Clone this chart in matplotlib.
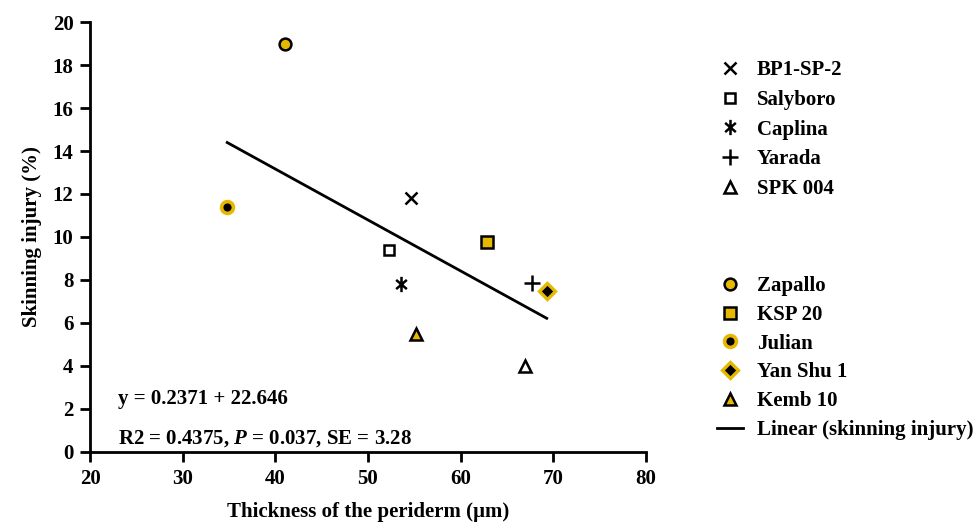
import numpy as np
import matplotlib
matplotlib.use("Agg")
import matplotlib.pyplot as plt
from matplotlib.path import Path

plt.rcParams['font.family'] = ['Liberation Serif', 'DejaVu Serif']
plt.rcParams['font.weight'] = 'bold'
plt.rcParams['mathtext.fontset'] = 'custom'
plt.rcParams['mathtext.rm'] = 'Liberation Serif:bold'
plt.rcParams['mathtext.it'] = 'Liberation Serif:italic:bold'

GOLD = '#E6B800'
FS = 15

# cultivars, periderm thickness (um) and skinning injury (%)
names = ['BP1-SP-2', 'Salyboro', 'Caplina', 'Yarada', 'SPK 004',
         'Zapallo', 'KSP 20', 'Julian', 'Yan Shu 1', 'Kemb 10']
thickness = [54.6, 52.3, 53.6, 67.7, 67.0, 41.0, 62.8, 34.8, 69.3, 55.2]
injury = [11.8, 9.4, 7.8, 7.85, 4.0, 19.0, 9.75, 11.4, 7.5, 5.5]

slope = -0.2371
intercept = 22.646

# "ж" shaped asterisk: a cross with a vertical bar
star = Path([(0, -1), (0, 1), (-0.7, -0.6), (0.7, 0.6), (-0.7, 0.6), (0.7, -0.6)],
            [Path.MOVETO, Path.LINETO] * 3)

# marker, face colour, edge colour, size, edge width
styles = [
    ('x', 'none', 'black', 8.5, 1.8),
    ('s', 'white', 'black', 7.5, 1.8),
    (star, 'none', 'black', 11, 1.8),
    ('+', 'none', 'black', 11, 1.8),
    ('^', 'white', 'black', 8.5, 1.8),
    ('o', GOLD, 'black', 8.5, 1.8),
    ('s', GOLD, 'black', 8, 1.8),
    ('o', 'black', GOLD, 8.5, 2.6),
    ('D', 'black', GOLD, 8, 2.4),
    ('^', GOLD, 'black', 8.5, 1.8),
]

fig = plt.figure(figsize=(9.8, 5.26), dpi=100)
ax = fig.add_axes([0.092, 0.141, 0.567, 0.817])

handles = []
for name, x, y, (m, fc, ec, ms, mew) in zip(names, thickness, injury, styles):
    h, = ax.plot([x], [y], linestyle='none', marker=m, markersize=ms,
                 markerfacecolor=fc, markeredgecolor=ec, markeredgewidth=mew,
                 color=ec, label=name, clip_on=False)
    handles.append(h)

xs = np.array([min(thickness), max(thickness)])
line, = ax.plot(xs, intercept + slope * xs, color='black', lw=2,
                label='Linear (skinning injury)')

ax.set_xlim(20, 80)
ax.set_ylim(0, 20)
ax.set_xticks(np.arange(20, 81, 10))
ax.set_yticks(np.arange(0, 21, 2))
for s in ['top', 'right']:
    ax.spines[s].set_visible(False)
for s in ['left', 'bottom']:
    ax.spines[s].set_linewidth(2)
ax.tick_params(direction='out', length=7, width=2, labelsize=FS, pad=5)
for lab in ax.get_xticklabels() + ax.get_yticklabels():
    lab.set_fontweight('bold')

ax.set_xlabel('Thickness of the periderm (\u00b5m)', fontsize=FS,
              fontweight='bold', labelpad=10)
ax.set_ylabel('Skinning injury (%)', fontsize=FS, fontweight='bold',
              labelpad=8)

ax.text(0.05, 0.122, 'y = 0.2371 + 22.646', transform=ax.transAxes,
        fontsize=FS, fontweight='bold', va='center')
ax.text(0.05, 0.03, 'R2 = 0.4375, $\\it{P}$ = 0.037, SE = 3.28',
        transform=ax.transAxes, fontsize=FS, fontweight='bold', va='center')

leg_kw = dict(frameon=False, fontsize=FS, handlelength=1.25, handletextpad=0.67,
              borderaxespad=0, borderpad=0, loc='upper left')
fig.legend(handles=handles[:5], bbox_to_anchor=(0.7316, 0.885),
           labelspacing=0.46, **leg_kw)
fig.legend(handles=handles[5:] + [line], bbox_to_anchor=(0.7316, 0.475),
           labelspacing=0.42, **leg_kw)

fig.savefig('out.png', dpi=100)
